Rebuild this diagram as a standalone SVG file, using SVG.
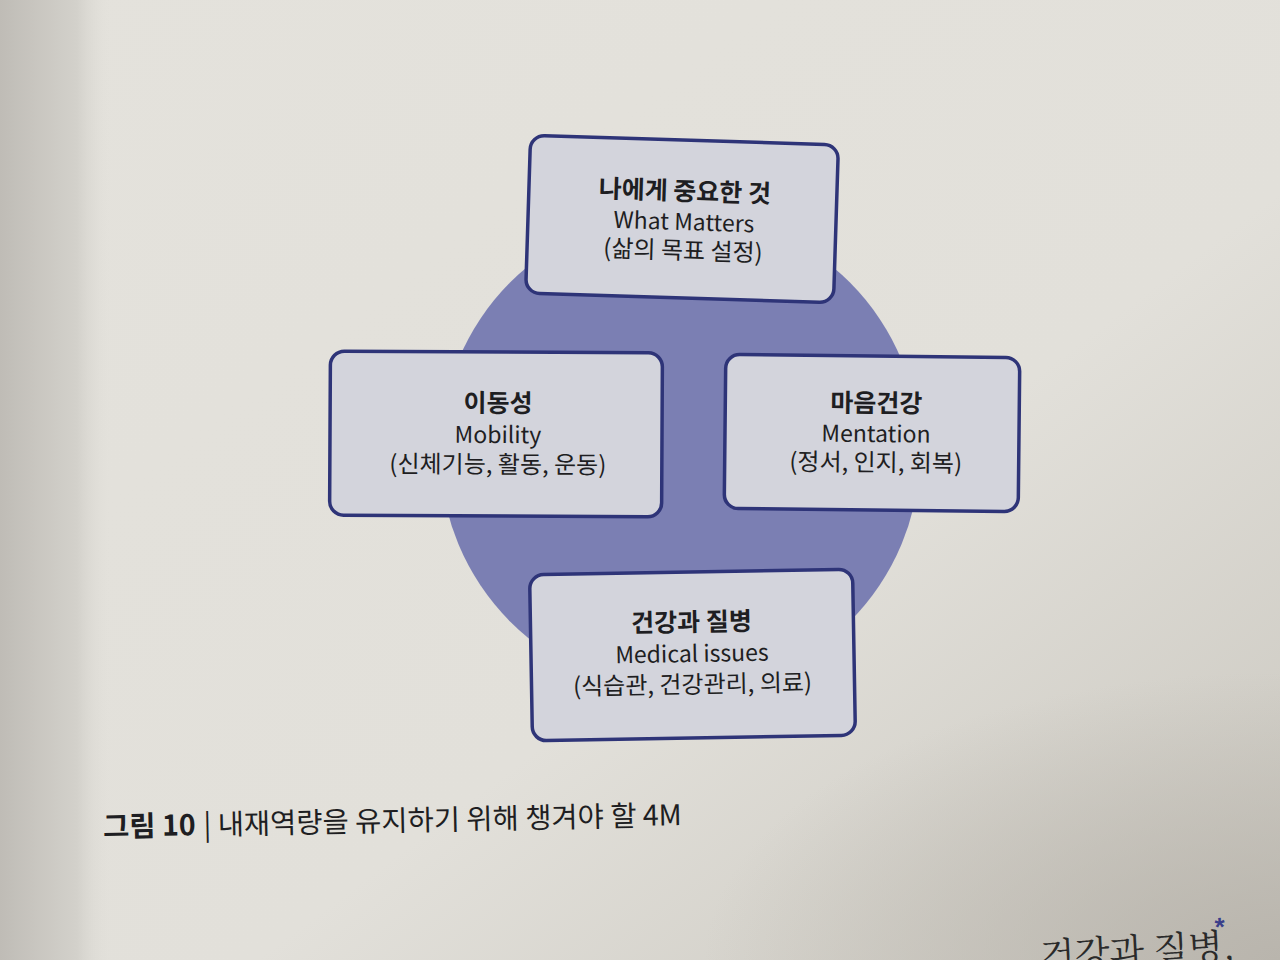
<svg xmlns="http://www.w3.org/2000/svg" width="1280" height="960" viewBox="0 0 1280 960">
<defs>
<linearGradient id="page" x1="0" y1="0" x2="1" y2="1">
<stop offset="0" stop-color="#e4e2dc"/>
<stop offset="0.6" stop-color="#e2e0da"/>
<stop offset="1" stop-color="#c9c6be"/>
</linearGradient>
<linearGradient id="curl" x1="0" y1="0" x2="1" y2="0">
<stop offset="0" stop-color="#bfbcb6"/>
<stop offset="0.7" stop-color="#d3d1cb"/>
<stop offset="1" stop-color="#e0ded8" stop-opacity="0"/>
</linearGradient>
<radialGradient id="shadow" cx="1" cy="1" r="0.9">
<stop offset="0" stop-color="#b9b5ad"/>
<stop offset="1" stop-color="#b9b5ad" stop-opacity="0"/>
</radialGradient>
<style>
.box{fill:#d3d4dc;stroke:#2e3478;stroke-width:3.5}
.t{font-family:"Noto Sans CJK KR","Noto Sans",sans-serif;fill:#1e1e22;text-anchor:middle}
.h{font-size:25px;font-weight:700}
.e{font-size:23px}
.s{font-size:24px}
</style>
</defs>
<rect width="1280" height="960" fill="url(#page)"/>
<rect x="0" y="0" width="110" height="960" fill="url(#curl)"/>
<rect x="640" y="640" width="640" height="320" fill="url(#shadow)"/>
<g id="circle"><circle cx="680" cy="452" r="240" fill="#7b7fb3"/></g>
<g id="connectors"/>
<g id="node-top" transform="rotate(1.8 682 220)">
<rect class="box" x="528" y="140" width="308" height="158" rx="14"/>
<text class="t h" x="684" y="200">나에게 중요한 것</text>
<text class="t e" x="684" y="230">What Matters</text>
<text class="t s" x="684" y="259">(삶의 목표 설정)</text>
</g>
<g id="node-left" transform="rotate(0.3 496 435)">
<rect class="box" x="330" y="352" width="332" height="164" rx="14"/>
<text class="t h" x="498" y="412">이동성</text>
<text class="t e" x="498" y="443">Mobility</text>
<text class="t s" x="498" y="473">(신체기능, 활동, 운동)</text>
</g>
<g id="node-right" transform="rotate(0.6 872 433)">
<rect class="box" x="725" y="356" width="294" height="154" rx="14"/>
<text class="t h" x="876" y="412">마음건강</text>
<text class="t e" x="876" y="442">Mentation</text>
<text class="t s" x="876" y="471">(정서, 인지, 회복)</text>
</g>
<g id="node-bottom" transform="rotate(-1 692 655)">
<rect class="box" x="531" y="572" width="323" height="166" rx="14"/>
<text class="t h" x="692" y="631">건강과 질병</text>
<text class="t e" x="692" y="662">Medical issues</text>
<text class="t s" x="692" y="693">(식습관, 건강관리, 의료)</text>
</g>
<g id="caption" transform="rotate(-1.2 394 820)">
<text x="103" y="831" font-family="'Noto Sans CJK KR','Noto Sans',sans-serif" font-size="28.5" fill="#1e1e22"><tspan font-weight="700">그림 10</tspan><tspan dx="8">| 내재역량을 유지하기 위해 챙겨야 할 4M</tspan></text>
</g>
<g id="page-text" transform="rotate(-3 1100 955)">
<text x="1040" y="966" font-family="'Noto Serif CJK KR','Noto Sans CJK KR',serif" font-size="36" fill="#2a2a2a">건강과 질병,</text>
<text x="1216" y="942" font-family="'Liberation Sans',sans-serif" font-size="26" font-weight="700" fill="#3a3f8a">*</text>
</g>
</svg>
